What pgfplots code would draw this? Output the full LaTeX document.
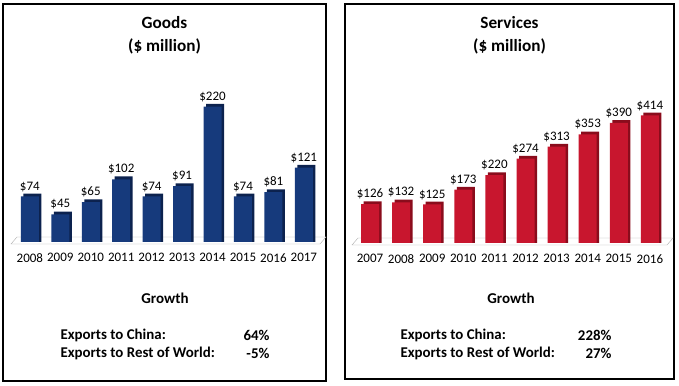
\documentclass[border=0pt]{standalone}
\usepackage{fontspec}
\setmainfont{Carlito}
\usepackage{pgfplots}
\usepackage{pgfplotstable}
\pgfplotsset{compat=1.18}
\definecolor{navyF}{RGB}{22,58,124}
\definecolor{navyS}{RGB}{12,34,78}
\definecolor{redF}{RGB}{200,22,46}
\definecolor{redS}{RGB}{138,12,28}
\definecolor{floorC}{RGB}{175,175,175}
\pgfplotstableread{
x v
0 74
1 45
2 65
3 102
4 74
5 91
6 220
7 74
8 81
9 121
}\goods
\pgfplotstableread{
x v
0 126
1 132
2 125
3 173
4 220
5 274
6 313
7 353
8 390
9 414
}\services
\pgfplotsset{
  barpanel/.style={
    scale only axis, clip=false,
    ybar, bar width=18pt,
    ymin=0,
    axis y line=none, axis x line*=bottom,
    x axis line style={draw=none},
    xtick={0,...,9}, xtick style={draw=none},
    xticklabel style={font=\fontsize{13}{15}\selectfont, yshift=-3.5pt},
    /pgf/number format/assume math mode=true,
    every node near coord/.append style={font=\fontsize{13}{15}\selectfont, yshift=1.5pt},
  }
}
\begin{document}
\begin{tikzpicture}
\useasboundingbox (0pt,0pt) rectangle (679pt,385pt);
\draw[line width=1.1pt] (3pt,381pt) rectangle (326pt,4pt);
\draw[line width=1.1pt] (345pt,381pt) rectangle (674pt,6pt);

% Goods panel
\begin{axis}[barpanel, at={(11pt,143pt)}, anchor=south west,
  width=309pt, height=153.75pt, xmin=-0.62, xmax=9.53, ymax=250,
  xticklabels={2008,2009,2010,2011,2012,2013,2014,2015,2016,2017}]
  \draw[floorC, fill=white] (axis cs:-0.62,0) ++(0pt,-2pt) -- ++(6pt,7pt) -- ([xshift=6pt,yshift=5pt]axis cs:9.53,0) -- ([yshift=-2pt]axis cs:9.53,0) -- cycle;
  \addplot[fill=navyS, draw=none, bar shift=2.5pt] table[x=x, y expr=\thisrow{v}+4.5] {\goods};
  \addplot[fill=navyF, draw=none, bar shift=0pt,
    nodes near coords={\$\pgfmathprintnumber{\pgfplotspointmeta}}] table[x=x, y=v] {\goods};
\end{axis}

% Services panel
\begin{axis}[barpanel, at={(352pt,142pt)}, anchor=south west,
  width=315pt, height=154pt, xmin=-0.58, xmax=9.55, ymax=500,
  xticklabels={2007,2008,2009,2010,2011,2012,2013,2014,2015,2016}]
  \draw[floorC, fill=white] (axis cs:-0.58,0) ++(0pt,-2pt) -- ++(6pt,7pt) -- ([xshift=6pt,yshift=5pt]axis cs:9.55,0) -- ([yshift=-2pt]axis cs:9.55,0) -- cycle;
  \addplot[fill=redS, draw=none, bar shift=2.5pt] table[x=x, y expr=\thisrow{v}+9] {\services};
  \addplot[fill=redF, draw=none, bar shift=0pt,
    nodes near coords={\$\pgfmathprintnumber{\pgfplotspointmeta}}] table[x=x, y=v] {\services};
\end{axis}

% Titles
\node[font=\fontsize{17.2}{20}\bfseries] at (164.5pt,362pt) {Goods};
\node[font=\fontsize{17.2}{20}\bfseries] at (164.5pt,339pt) {(\$ million)};
\node[font=\fontsize{17.2}{20}\bfseries] at (509.5pt,362pt) {Services};
\node[font=\fontsize{17.2}{20}\bfseries] at (509.5pt,339pt) {(\$ million)};

% Growth
\node[font=\fontsize{15}{18}\bfseries] at (165pt,87pt) {Growth};
\node[font=\fontsize{14.9}{18}\bfseries, anchor=west] at (57pt,50pt) {Exports to China:};
\node[font=\fontsize{14.9}{18}\bfseries, anchor=east] at (273pt,50pt) {64\%};
\node[font=\fontsize{14.9}{18}\bfseries, anchor=west] at (57pt,32pt) {Exports to Rest of World:};
\node[font=\fontsize{14.9}{18}\bfseries, anchor=east] at (273pt,32pt) {-5\%};

\node[font=\fontsize{15}{18}\bfseries] at (511pt,87pt) {Growth};
\node[font=\fontsize{14.9}{18}\bfseries, anchor=west] at (397pt,50pt) {Exports to China:};
\node[font=\fontsize{14.9}{18}\bfseries, anchor=east] at (615pt,50pt) {228\%};
\node[font=\fontsize{14.9}{18}\bfseries, anchor=west] at (397pt,32pt) {Exports to Rest of World:};
\node[font=\fontsize{14.9}{18}\bfseries, anchor=east] at (615pt,32pt) {27\%};
\end{tikzpicture}
\end{document}
